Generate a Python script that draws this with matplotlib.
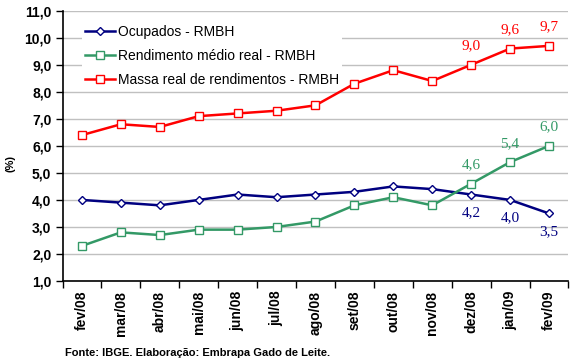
import numpy as np
import matplotlib
matplotlib.use("Agg")
from matplotlib import pyplot as plt

meses = ["fev/08", "mar/08", "abr/08", "mai/08", "jun/08", "jul/08", "ago/08",
         "set/08", "out/08", "nov/08", "dez/08", "jan/09", "fev/09"]
ocupados = [4.0, 3.9, 3.8, 4.0, 4.2, 4.1, 4.2, 4.3, 4.5, 4.4, 4.2, 4.0, 3.5]
rendimento = [2.3, 2.8, 2.7, 2.9, 2.9, 3.0, 3.2, 3.8, 4.1, 3.8, 4.6, 5.4, 6.0]
massa = [6.4, 6.8, 6.7, 7.1, 7.2, 7.3, 7.5, 8.3, 8.8, 8.4, 9.0, 9.6, 9.7]
y_ticks = [1.0, 2.0, 3.0, 4.0, 5.0, 6.0, 7.0, 8.0, 9.0, 10.0, 11.0]

plt.rcParams['font.family'] = ['Liberation Sans', 'DejaVu Sans']


def main():
    fig = plt.figure(figsize=(5.74, 3.64), dpi=100)
    ax = fig.add_axes([0.1089, 0.228, 0.8815, 0.7425])
    x = np.arange(len(meses))

    ax.plot(x, ocupados, color="#000080", lw=1.8, marker="D", ms=4.5,
            mfc="white", mec="#000080", mew=1.0, label="Ocupados - RMBH", zorder=3)
    ax.plot(x, rendimento, color="#339966", lw=1.8, marker="s", ms=6,
            mfc="white", mec="#339966", mew=1.0, label="Rendimento médio real - RMBH", zorder=3)
    ax.plot(x, massa, color="#FF0000", lw=1.8, marker="s", ms=6,
            mfc="white", mec="#FF0000", mew=1.0, label="Massa real de rendimentos - RMBH", zorder=3)

    # rotulos dos tres ultimos meses
    for i in range(len(meses) - 3, len(meses)):
        ax.annotate(f"{massa[i]:.1f}".replace(".", ","), (x[i], massa[i]),
                    xytext=(0, 13.5), textcoords="offset points", ha="center", va="center",
                    color="#FF0000", fontsize=11, family="Liberation Serif")
        ax.annotate(f"{rendimento[i]:.1f}".replace(".", ","), (x[i], rendimento[i]),
                    xytext=(0, 13.5), textcoords="offset points", ha="center", va="center",
                    color="#339966", fontsize=11, family="Liberation Serif")
        ax.annotate(f"{ocupados[i]:.1f}".replace(".", ","), (x[i], ocupados[i]),
                    xytext=(0, -13), textcoords="offset points", ha="center", va="center",
                    color="#000080", fontsize=11, family="Liberation Serif")

    ax.set_xlim(-0.5, len(meses) - 0.5)
    ax.set_ylim(1.0, 11.0)
    ax.set_yticks(y_ticks)
    ax.set_yticklabels([f"{v:.1f}".replace(".", ",") for v in y_ticks],
                       fontsize=10, fontweight="bold")
    ax.set_xticks(x)
    ax.set_xticklabels(meses, rotation=90, fontsize=10, fontweight="bold")
    ax.set_xticks(np.arange(-0.5, len(meses)), minor=True)
    ax.tick_params(axis="x", which="major", length=0, pad=7)
    ax.tick_params(axis="x", which="minor", length=5, direction="out", width=1)
    ax.tick_params(axis="y", length=5, direction="out", width=1, pad=3)
    ax.grid(axis="y", color="#c0c0c0", lw=1)
    ax.set_axisbelow(True)
    for s in ["top", "right"]:
        ax.spines[s].set_visible(False)
    for s in ["left", "bottom"]:
        ax.spines[s].set_linewidth(1.2)

    leg = ax.legend(loc="upper left", bbox_to_anchor=(0.025, 0.985), frameon=True,
                    fancybox=False, edgecolor="white", framealpha=1, fontsize=10,
                    handlelength=2.2, handletextpad=0.2, labelspacing=0.75,
                    borderpad=0.2)
    leg.get_frame().set_linewidth(0)
    leg.set_zorder(2.5)

    fig.text(0.018, 0.55, "(%)", rotation=90, fontsize=8, fontweight="bold",
             ha="center", va="center")
    fig.text(0.113, 0.03, "Fonte: IBGE. Elaboração: Embrapa Gado de Leite.",
             fontsize=8, fontweight="bold", ha="left", va="center")

    fig.savefig("out.png", dpi=100)


if __name__ == "__main__":
    main()
